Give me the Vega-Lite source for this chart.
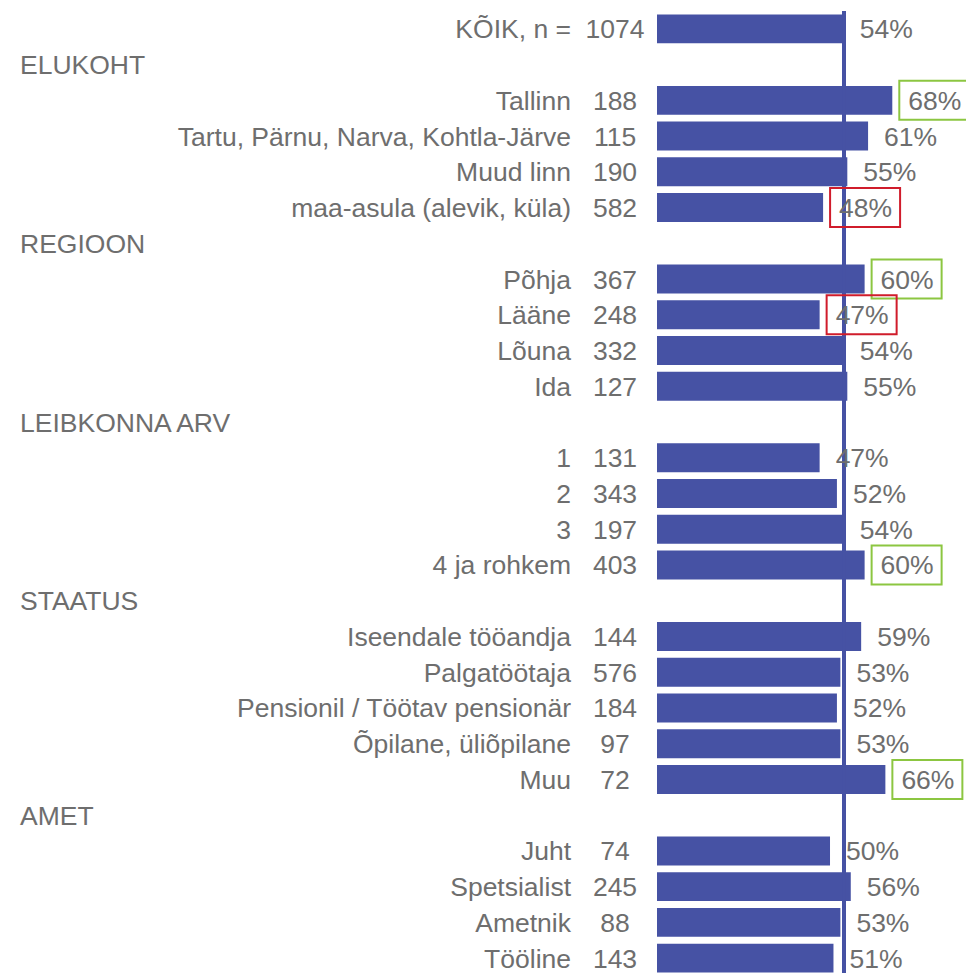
{
  "$schema": "https://vega.github.io/schema/vega-lite/v6.json",
  "width": 309,
  "height": 965,
  "padding": {"left": 657, "top": 11, "right": 0, "bottom": 0},
  "autosize": {"type": "none"},
  "background": "white",
  "config": {"view": {"stroke": null}, "text": {"font": "Liberation Sans", "fontSize": 26.5, "color": "#6e6e6e", "dy": 1.5}},
  "data": {"values": [
    {"row": 1, "label": "KÕIK, n =", "n": 1074, "pct": 0.54},
    {"row": 2, "header": "ELUKOHT"},
    {"row": 3, "label": "Tallinn", "n": 188, "pct": 0.68, "flag": "kõrgem"},
    {"row": 4, "label": "Tartu, Pärnu, Narva, Kohtla-Järve", "n": 115, "pct": 0.61},
    {"row": 5, "label": "Muud linn", "n": 190, "pct": 0.55},
    {"row": 6, "label": "maa-asula (alevik, küla)", "n": 582, "pct": 0.48, "flag": "madalam"},
    {"row": 7, "header": "REGIOON"},
    {"row": 8, "label": "Põhja", "n": 367, "pct": 0.60, "flag": "kõrgem"},
    {"row": 9, "label": "Lääne", "n": 248, "pct": 0.47, "flag": "madalam"},
    {"row": 10, "label": "Lõuna", "n": 332, "pct": 0.54},
    {"row": 11, "label": "Ida", "n": 127, "pct": 0.55},
    {"row": 12, "header": "LEIBKONNA ARV"},
    {"row": 13, "label": "1", "n": 131, "pct": 0.47},
    {"row": 14, "label": "2", "n": 343, "pct": 0.52},
    {"row": 15, "label": "3", "n": 197, "pct": 0.54},
    {"row": 16, "label": "4 ja rohkem", "n": 403, "pct": 0.60, "flag": "kõrgem"},
    {"row": 17, "header": "STAATUS"},
    {"row": 18, "label": "Iseendale tööandja", "n": 144, "pct": 0.59},
    {"row": 19, "label": "Palgatöötaja", "n": 576, "pct": 0.53},
    {"row": 20, "label": "Pensionil / Töötav pensionär", "n": 184, "pct": 0.52},
    {"row": 21, "label": "Õpilane, üliõpilane", "n": 97, "pct": 0.53},
    {"row": 22, "label": "Muu", "n": 72, "pct": 0.66, "flag": "kõrgem"},
    {"row": 23, "header": "AMET"},
    {"row": 24, "label": "Juht", "n": 74, "pct": 0.50},
    {"row": 25, "label": "Spetsialist", "n": 245, "pct": 0.56},
    {"row": 26, "label": "Ametnik", "n": 88, "pct": 0.53},
    {"row": 27, "label": "Tööline", "n": 143, "pct": 0.51}
  ]},
  "encoding": {
    "y": {"field": "row", "type": "ordinal", "sort": "ascending", "axis": null,
          "scale": {"paddingInner": 0.19, "paddingOuter": 0.095}}
  },
  "layer": [
    {
      "transform": [{"filter": "isValid(datum.pct)"}],
      "mark": {"type": "bar", "color": "#4652a4"},
      "encoding": {
        "x": {"field": "pct", "type": "quantitative", "axis": null,
              "scale": {"domain": [0, 0.893], "nice": false, "zero": true}}
      }
    },
    {
      "mark": {"type": "rule", "color": "#4652a4", "strokeWidth": 3.5},
      "encoding": {"x": {"datum": 0.54, "type": "quantitative"}, "y": null}
    },
    {
      "transform": [{"filter": "isValid(datum.label)"}],
      "mark": {"type": "text", "align": "right", "baseline": "middle", "xOffset": -86},
      "encoding": {"x": {"datum": 0, "type": "quantitative"}, "text": {"field": "label"}}
    },
    {
      "transform": [{"filter": "isValid(datum.n)"}],
      "mark": {"type": "text", "align": "center", "baseline": "middle", "xOffset": -42},
      "encoding": {"x": {"datum": 0, "type": "quantitative"}, "text": {"field": "n"}}
    },
    {
      "transform": [{"filter": "isValid(datum.header)"}],
      "mark": {"type": "text", "align": "left", "baseline": "middle", "xOffset": -637},
      "encoding": {"x": {"datum": 0, "type": "quantitative"}, "text": {"field": "header"}}
    },
    {
      "transform": [{"filter": "isValid(datum.pct)"}],
      "mark": {"type": "text", "align": "left", "baseline": "middle", "xOffset": 16},
      "encoding": {"x": {"field": "pct", "type": "quantitative"}, "text": {"field": "pct", "format": ".0%"}}
    },
    {
      "transform": [{"filter": "isValid(datum.flag)"}],
      "mark": {"type": "point", "shape": "M-1,-0.557L1,-0.557L1,0.557L-1,0.557Z", "filled": false,
               "size": 4900, "strokeWidth": 2, "opacity": 1, "xOffset": 42},
      "encoding": {
        "x": {"field": "pct", "type": "quantitative"},
        "color": {"field": "flag", "type": "nominal", "legend": null,
                  "scale": {"domain": ["kõrgem", "madalam"], "range": ["#8cc641", "#d01c2b"]}}
      }
    }
  ]
}
